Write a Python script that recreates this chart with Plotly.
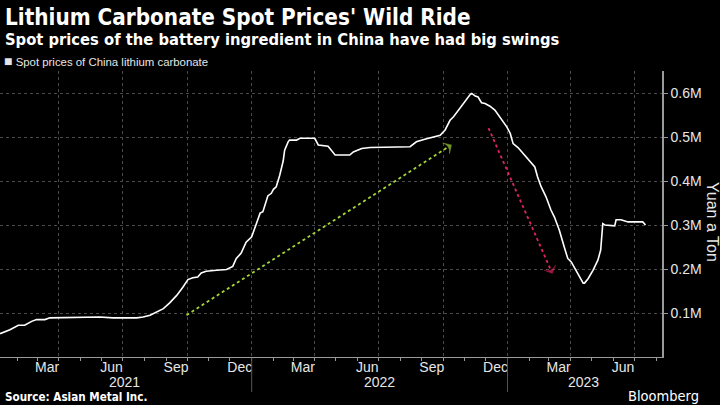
import plotly.graph_objects as go

# ---------------- data ----------------
dates = [
    "2021-01-07", "2021-01-21", "2021-02-02", "2021-02-11", "2021-02-21", "2021-02-28",
    "2021-03-12", "2021-03-19", "2021-05-29", "2021-06-17", "2021-07-21", "2021-07-30",
    "2021-08-09", "2021-08-18", "2021-08-28", "2021-09-06", "2021-09-16", "2021-09-25",
    "2021-10-02", "2021-10-09", "2021-10-16", "2021-10-21", "2021-10-28", "2021-11-12",
    "2021-11-26", "2021-12-05", "2021-12-10", "2021-12-17", "2021-12-24", "2022-01-01",
    "2022-01-08", "2022-01-13", "2022-01-17", "2022-01-24", "2022-01-29", "2022-02-01",
    "2022-02-05", "2022-02-10", "2022-02-15", "2022-02-17", "2022-02-22", "2022-02-24",
    "2022-03-06", "2022-03-11", "2022-04-01", "2022-04-06", "2022-04-20", "2022-04-30",
    "2022-05-21", "2022-05-26", "2022-06-07", "2022-06-19", "2022-08-15", "2022-08-24",
    "2022-09-05", "2022-09-27", "2022-10-04", "2022-10-11", "2022-10-16", "2022-10-23",
    "2022-10-30", "2022-11-04", "2022-11-09", "2022-11-11", "2022-11-16", "2022-11-20",
    "2022-11-25", "2022-11-30", "2022-12-07", "2022-12-14", "2022-12-21", "2022-12-31",
    "2023-01-05", "2023-01-09", "2023-01-16", "2023-01-23", "2023-02-02", "2023-02-09",
    "2023-02-13", "2023-02-18", "2023-02-25", "2023-03-04", "2023-03-09", "2023-03-16",
    "2023-03-23", "2023-03-28", "2023-04-02", "2023-04-09", "2023-04-14", "2023-04-19",
    "2023-04-21", "2023-04-26", "2023-05-03", "2023-05-10", "2023-05-14", "2023-05-17",
    "2023-05-20", "2023-06-03", "2023-06-05", "2023-06-12", "2023-06-22", "2023-07-13",
    "2023-07-17",
]
prices = [
    53000, 62000, 72000, 72000, 81000, 85000,
    85000, 89000, 91000, 89000, 89000, 91000,
    95000, 102000, 110000, 123000, 140000, 159000,
    176000, 180000, 182000, 191000, 195000, 197000,
    199000, 206000, 224000, 236000, 261000, 273000,
    303000, 327000, 330000, 366000, 372000, 381000,
    387000, 413000, 446000, 470000, 489000, 493000,
    493000, 497000, 497000, 482000, 479000, 459000,
    459000, 466000, 474000, 476000, 478000, 489000,
    495000, 504000, 516000, 538000, 546000, 561000,
    576000, 588000, 597000, 599000, 593000, 591000,
    578000, 576000, 570000, 561000, 546000, 523000,
    508000, 485000, 476000, 463000, 447000, 432000,
    409000, 387000, 364000, 334000, 318000, 288000,
    250000, 224000, 216000, 197000, 182000, 168000,
    168000, 178000, 197000, 220000, 243000, 303000,
    300000, 298000, 312000, 312000, 307000, 307000,
    300000,
]

rise_arrow_dates = ["2021-09-30", "2022-10-13"]
rise_arrow_vals = [95000, 482000]
fall_arrow_dates = ["2022-12-05", "2023-03-06"]
fall_arrow_vals = [520000, 190000]

y_tick_vals = [100000, 200000, 300000, 400000, 500000, 600000]
y_tick_text = ["0.1M", "0.2M", "0.3M", "0.4M", "0.5M", "0.6M"]

month_label_dates = ["2021-03-15", "2021-06-15", "2021-09-15", "2021-12-15",
                     "2022-03-15", "2022-06-15", "2022-09-15", "2022-12-15",
                     "2023-03-15", "2023-06-15"]
month_label_text = ["Mar", "Jun", "Sep", "Dec", "Mar", "Jun", "Sep", "Dec", "Mar", "Jun"]

grid_dates = ["2021-04-01", "2021-07-01", "2021-10-01", "2022-01-01", "2022-04-01",
              "2022-07-01", "2022-10-01", "2023-01-01", "2023-04-01", "2023-07-01"]

year_labels = ["2021", "2022", "2023"]
year_label_pos = ["2021-07-04", "2022-07-02", "2023-04-20"]
year_breaks = ["2022-01-01", "2023-01-01"]

x_range = ["2021-01-06 20:00", "2023-08-09 12:00"]
y_range = [0, 650000]

# ---------------- layout helpers ----------------
W, H = 720, 405
M_L, M_R, M_T, M_B = 0, 58, 71, 48
PLOT_H = H - M_T - M_B
PLOT_W = W - M_L - M_R


def py(pixel_y):
    return (H - M_B - pixel_y) / PLOT_H


def px(pixel_x):
    return (pixel_x - M_L) / PLOT_W


TEXT = "#e6e6e6"
GRID = "#4a4a4a"
AXIS = "#9a9a9a"
NARROW = "Liberation Sans Narrow, Arial Narrow, sans-serif"
COND = "DejaVu Sans Condensed, DejaVu Sans, sans-serif"

fig = go.Figure()

fig.add_trace(go.Scatter(
    x=dates, y=prices, mode="lines",
    line=dict(color="#ffffff", width=1.6),
    name="Spot prices of China lithium carbonate",
    showlegend=False, hoverinfo="skip",
))

for xs, ys, col in [(rise_arrow_dates, rise_arrow_vals, "#a4d637"),
                    (fall_arrow_dates, fall_arrow_vals, "#e0245e")]:
    fig.add_trace(go.Scatter(
        x=xs, y=ys, mode="lines+markers",
        line=dict(color=col, width=1.8, dash="dot"),
        marker=dict(symbol=["circle", "arrow-wide"], size=[0, 9],
                    angleref="previous", color=col,
                    line=dict(color=col, width=0.5)),
        showlegend=False, hoverinfo="skip",
    ))

# invisible trace to carry the label axis
fig.add_trace(go.Scatter(x=x_range, y=[None, None], xaxis="x2", yaxis="y",
                         showlegend=False, hoverinfo="skip", mode="lines"))

annotations = [
    dict(text="<b>Lithium Carbonate Spot Prices' Wild Ride</b>", x=0.004, y=py(17),
         font=dict(family=COND, size=22.3, color="#ffffff")),
    dict(text="<b>Spot prices of the battery ingredient in China have had big swings</b>",
         x=0.004, y=py(39), font=dict(family=COND, size=16.4, color="#ffffff")),
    dict(text="<span style='font-size:14px'>■</span> Spot prices of China lithium carbonate",
         x=0.003, y=py(61), font=dict(family=NARROW, size=11.4, color=TEXT)),
    dict(text="<b>Source: Asian Metal Inc.</b>", x=0.004, y=py(397),
         font=dict(family=COND, size=11.6, color="#ffffff")),
    dict(text="Bloomberg", x=px(701), xanchor="right",
         y=py(396), font=dict(family=COND, size=14.5, color="#ffffff")),
    dict(text="Yuan a Ton", textangle=90, x=px(712), xanchor="center",
         y=py(222), font=dict(family=NARROW, size=16, color=TEXT)),
]
for a in annotations:
    a.setdefault("xanchor", "left")
    a.update(xref="paper", yref="paper", yanchor="middle", showarrow=False)

for lbl, pos in zip(year_labels, year_label_pos):
    annotations.append(dict(text=lbl, x=pos, xref="x", y=py(382), yref="paper",
                            yanchor="middle", showarrow=False,
                            font=dict(family=NARROW, size=14, color=TEXT)))

shapes = [dict(type="line", xref="x", yref="paper", x0=d, x1=d, y0=py(358), y1=py(392),
               line=dict(color="#555555", width=1)) for d in year_breaks]

fig.update_layout(
    width=W, height=H, autosize=False,
    margin=dict(l=M_L, r=M_R, t=M_T, b=M_B),
    paper_bgcolor="#000000", plot_bgcolor="#000000",
    annotations=annotations, shapes=shapes,
    xaxis=dict(
        type="date", range=x_range,
        tickvals=grid_dates, showticklabels=False, ticks="",
        showgrid=True, gridcolor=GRID, griddash="dot", gridwidth=1,
        showline=True, linecolor=AXIS, linewidth=1, zeroline=False,
        minor=dict(dtick="M1", tick0="2021-01-01", ticks="outside", ticklen=3,
                   tickcolor=AXIS, showgrid=False),
    ),
    xaxis2=dict(
        type="date", range=x_range, overlaying="x", side="bottom",
        tickvals=month_label_dates, ticktext=month_label_text, ticks="",
        showgrid=False, showline=False, zeroline=False,
        tickfont=dict(family=NARROW, size=14, color=TEXT),
    ),
    yaxis=dict(
        range=y_range, side="right",
        tickvals=y_tick_vals, ticktext=y_tick_text,
        ticks="outside", ticklen=4, tickcolor=AXIS,
        showgrid=True, gridcolor=GRID, griddash="dot", gridwidth=1,
        showline=True, linecolor=AXIS, linewidth=1.5, zeroline=False,
        tickfont=dict(family=NARROW, size=14, color=TEXT),
    ),
)

fig.write_html("out.html", config={"displayModeBar": False},
               post_script="document.body.style.margin='0';")
